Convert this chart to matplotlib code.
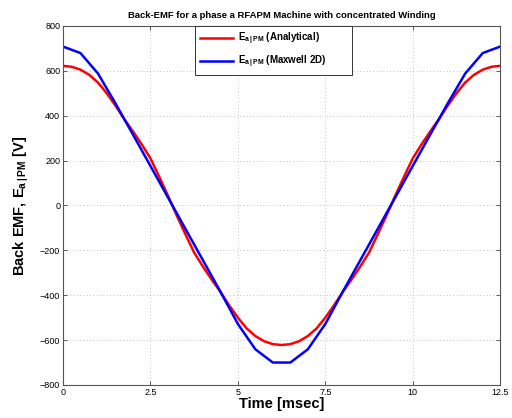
"""Back-EMF of phase a: analytical vs Maxwell 2D."""
import matplotlib
matplotlib.use("Agg")
import matplotlib.pyplot as plt
from matplotlib import rcParams

rcParams["font.family"] = ["Liberation Sans", "DejaVu Sans"]
rcParams["mathtext.fontset"] = "custom"
rcParams["mathtext.rm"] = "Liberation Sans"
rcParams["mathtext.bf"] = "Liberation Sans:bold"

# analytical curve, sampled every 0.25 ms
t_ana = [0.00, 0.25, 0.50, 0.75, 1.00, 1.25, 1.50, 1.75, 2.00, 2.25,
         2.50, 2.75, 3.00, 3.25, 3.50, 3.75, 4.00, 4.25, 4.50, 4.75,
         5.00, 5.25, 5.50, 5.75, 6.00, 6.25, 6.50, 6.75, 7.00, 7.25,
         7.50, 7.75, 8.00, 8.25, 8.50, 8.75, 9.00, 9.25, 9.50, 9.75,
         10.00, 10.25, 10.50, 10.75, 11.00, 11.25, 11.50, 11.75, 12.00,
         12.25, 12.50]
e_ana = [622, 618, 605, 582, 548, 500, 445, 385, 330, 272,
         210, 128, 44, -44, -128, -210, -272, -330, -385, -445,
         -500, -548, -582, -605, -618, -622, -618, -605, -582, -548,
         -500, -445, -385, -330, -272, -210, -128, -44, 44, 128,
         210, 272, 330, 385, 445, 500, 548, 582, 605,
         618, 622]

# FEM result, every 0.5 ms
t_fem = [0.0, 0.5, 1.0, 1.5, 2.0, 2.5, 3.0, 3.5, 4.0, 4.5, 5.0, 5.5, 6.0,
         6.5, 7.0, 7.5, 8.0, 8.5, 9.0, 9.5, 10.0, 10.5, 11.0, 11.5, 12.0, 12.5]
e_fem = [708, 679, 588, 455, 316, 176, 36, -104, -244, -384, -528, -641, -700,
         -700, -641, -528, -384, -244, -104, 36, 176, 316, 455, 588, 679, 708]

x_ticks = [0, 2.5, 5, 7.5, 10, 12.5]
x_labels = ["0", "2.5", "5", "7.5", "10", "12.5"]
y_ticks = [-800, -600, -400, -200, 0, 200, 400, 600, 800]

fig = plt.figure(figsize=(5.12, 4.18), dpi=100)
ax = fig.add_axes([0.123, 0.079, 0.854, 0.859])

ax.plot(t_ana, e_ana, color="#ff0000", lw=1.8,
        label=r"$\mathbf{E_{a\,|\,PM}}$ (Analytical)")
ax.plot(t_fem, e_fem, color="#0000ff", lw=1.8,
        label=r"$\mathbf{E_{a\,|\,PM}}$ (Maxwell 2D)")

ax.set_xlim(0, 12.5)
ax.set_ylim(-800, 800)
ax.set_xticks(x_ticks)
ax.set_xticklabels(x_labels)
ax.set_yticks(y_ticks)
ax.tick_params(direction="in", top=True, right=True, labelsize=6.5,
               length=3, width=0.6, color="#444444", pad=2)
for s in ax.spines.values():
    s.set_color("#555555")
    s.set_linewidth(0.8)
ax.grid(True, linestyle=(0, (1, 3)), color="#aaaaaa", linewidth=0.6)

ax.set_title("Back-EMF for a phase a RFAPM Machine with concentrated Winding",
             fontsize=6.8, fontweight="bold", pad=6)
ax.set_xlabel("Time [msec]", fontsize=10.5, fontweight="bold", labelpad=0)
ax.set_ylabel(r"Back EMF, $\mathbf{E_{a\,|\,PM}}$ [V]", fontsize=10.5,
              fontweight="bold", labelpad=6)

leg = ax.legend(loc="upper left", bbox_to_anchor=(0.302, 0.0, 0.359, 1.0),
                mode="expand", prop={"size": 7, "weight": "bold"},
                handlelength=3.4, handletextpad=0.5,
                fancybox=False, framealpha=1, borderpad=0.5,
                labelspacing=0.7, borderaxespad=0.0)
leg.get_frame().set_edgecolor("#333333")
leg.get_frame().set_linewidth(0.7)

fig.savefig("out.png", dpi=100)
